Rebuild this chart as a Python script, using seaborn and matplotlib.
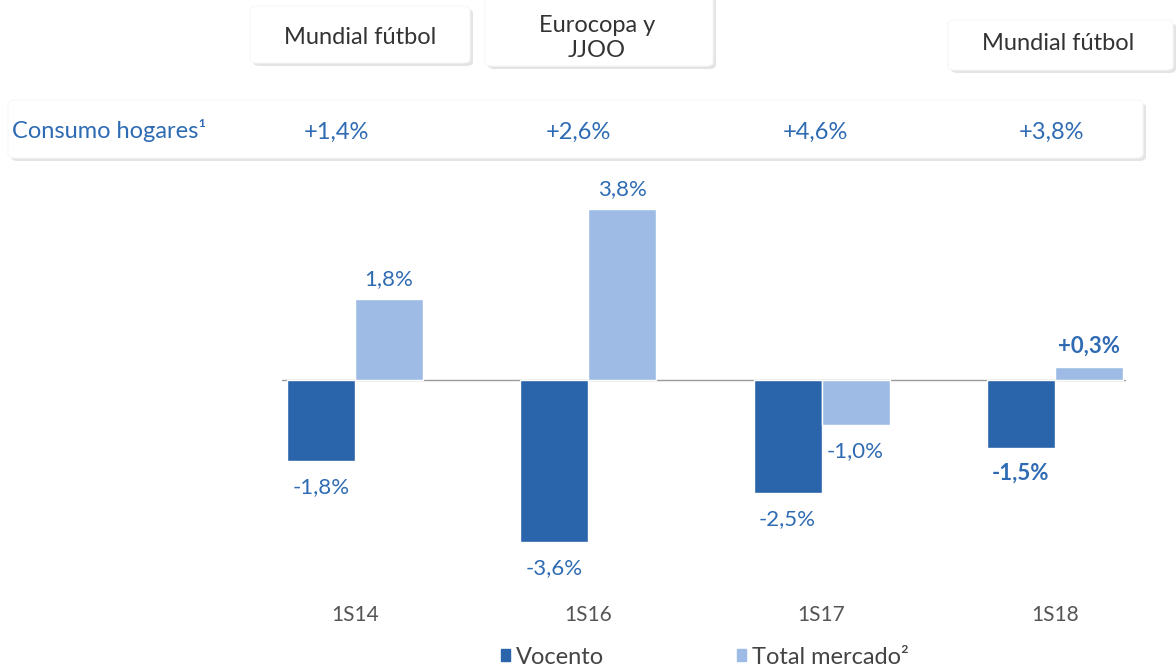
import pandas as pd
import matplotlib.pyplot as plt
import seaborn as sns
from matplotlib.patches import FancyBboxPatch, Patch

# Data
periods = ['1S14', '1S16', '1S17', '1S18']
vocento = [-1.8, -3.6, -2.5, -1.5]
total_mercado = [1.8, 3.8, -1.0, 0.3]
vocento_labels = ['-1,8%', '-3,6%', '-2,5%', '-1,5%']
mercado_labels = ['1,8%', '3,8%', '-1,0%', '+0,3%']
consumo_hogares = ['+1,4%', '+2,6%', '+4,6%', '+3,8%']
events = ['Mundial fútbol', 'Eurocopa y\nJJOO', 'Mundial fútbol']
series_names = ['Vocento', 'Total mercado²']

DARK = '#2a64aa'
LIGHT = '#9dbbe4'
TXT_BLUE = '#2f6bb3'
GREY = '#444444'
W, H = 1176, 670

sns.set_theme(style='white')
plt.rcParams['font.family'] = ['Lato', 'DejaVu Sans']

df = pd.DataFrame({
    'periodo': periods * 2,
    'valor': vocento + total_mercado,
    'serie': [series_names[0]] * 4 + [series_names[1]] * 4,
})

fig = plt.figure(figsize=(W / 100, H / 100), dpi=100)
ax = fig.add_axes([0, 0, 1, 1])


def fx(px):
    return px / W


def fy(py):
    return 1 - py / H


sns.barplot(data=df, x='periodo', y='valor', hue='serie', order=periods,
            hue_order=series_names, palette=[DARK, LIGHT], width=0.583,
            gap=0, saturation=1, legend=False, ax=ax)

# map data so that group centres and zero line sit where they do in the picture
ax.set_xlim(-1.521, 3.519)
ax.set_ylim(-6.44, 8.44)
ax.axis('off')

ax.axhline(0, xmin=0.24, xmax=0.957, color='#9a9a9a', lw=1, zorder=0)

# value labels
for cont, labels in zip(ax.containers, [vocento_labels, mercado_labels]):
    for i, (bar, lab) in enumerate(zip(cont, labels)):
        h = bar.get_height()
        xc = bar.get_x() + bar.get_width() / 2
        bold = 'bold' if i == 3 else 'normal'
        off = 20 if h >= 0 else -26
        ax.annotate(lab, (xc, h), xytext=(0, off), textcoords='offset pixels',
                    ha='center', va='center', fontsize=16, color=TXT_BLUE,
                    fontweight=bold)

# category labels
for i, p in enumerate(periods):
    ax.text(i, -5.22, p, ha='center', va='center', fontsize=15, color='#555555')

# legend
handles = [Patch(color=DARK), Patch(color=LIGHT)]
fig.legend(handles, series_names, loc='center', bbox_to_anchor=(fx(705), fy(657)),
           ncol=2, frameon=False, fontsize=17, handlelength=0.4, handleheight=0.4,
           handletextpad=0.25, columnspacing=5.6, labelcolor=GREY)


def box(x0, y0, x1, y1):
    # soft shadow on the right / bottom, then a white box, pixel coords from top-left
    shadow = FancyBboxPatch((fx(x0 + 3), fy(y1 + 3)), fx(x1 - x0), (y1 - y0) / H,
                            boxstyle='round,pad=0,rounding_size=0.006',
                            transform=fig.transFigure, fc='#e4e4e4', ec='none',
                            zorder=1)
    face = FancyBboxPatch((fx(x0), fy(y1)), fx(x1 - x0), (y1 - y0) / H,
                          boxstyle='round,pad=0,rounding_size=0.006',
                          transform=fig.transFigure, fc='white', ec='#f7f7f7',
                          lw=0.8, zorder=2)
    fig.patches.extend([shadow, face])


# event boxes on top
box(250, 6, 470, 63)
box(485, -5, 713, 66)
box(948, 20, 1176 - 3, 70)
fig.text(fx(360), fy(37), events[0], ha='center', va='center', fontsize=17,
         color='#333333', zorder=3)
fig.text(fx(597), fy(38), events[1], ha='center', va='center', fontsize=17,
         color='#333333', linespacing=1.25, zorder=3)
fig.text(fx(1058), fy(43), events[2], ha='center', va='center', fontsize=17,
         color='#333333', zorder=3)

# household consumption row
box(8, 100, 1143, 158)
fig.text(fx(12), fy(130), 'Consumo hogares¹', ha='left', va='center', fontsize=17,
         color=TXT_BLUE, zorder=3)
for xp, val in zip([336, 578, 815, 1052], consumo_hogares):
    fig.text(fx(xp), fy(132), val, ha='center', va='center', fontsize=17,
             color=TXT_BLUE, zorder=3)

fig.savefig('out.png', dpi=100)
